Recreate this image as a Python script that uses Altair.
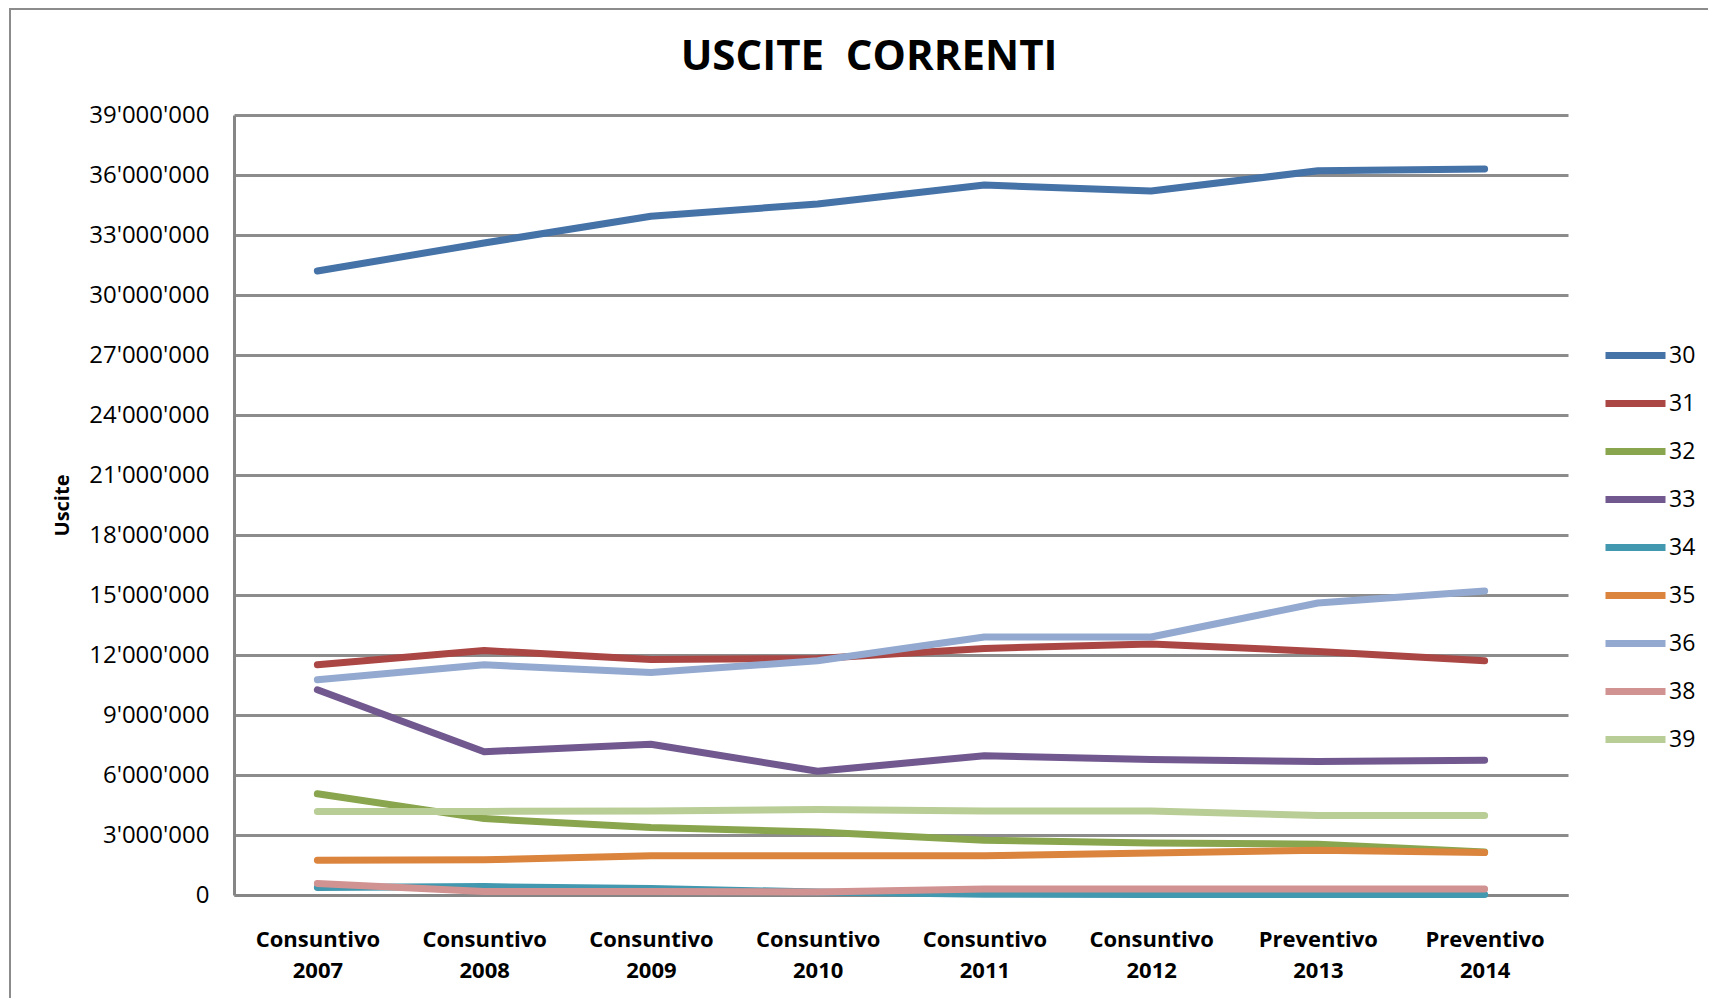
import altair as alt
import pandas as pd

categories = ["Consuntivo 2007", "Consuntivo 2008", "Consuntivo 2009", "Consuntivo 2010",
              "Consuntivo 2011", "Consuntivo 2012", "Preventivo 2013", "Preventivo 2014"]

s30 = [31200000, 32600000, 33940000, 34550000, 35500000, 35200000, 36210000, 36300000]
s31 = [11510000, 12220000, 11780000, 11830000, 12330000, 12550000, 12180000, 11710000]
s32 = [5060000, 3820000, 3370000, 3150000, 2740000, 2600000, 2540000, 2150000]
s33 = [10260000, 7160000, 7540000, 6190000, 6960000, 6770000, 6670000, 6740000]
s34 = [380000, 420000, 320000, 150000, 40000, 30000, 20000, 20000]
s35 = [1740000, 1760000, 1960000, 1960000, 1960000, 2100000, 2240000, 2120000]
s36 = [10760000, 11510000, 11130000, 11710000, 12900000, 12900000, 14600000, 15200000]
s38 = [580000, 170000, 170000, 150000, 300000, 300000, 300000, 300000]
s39 = [4180000, 4180000, 4200000, 4280000, 4200000, 4200000, 3980000, 3980000]

series_names = ["30", "31", "32", "33", "34", "35", "36", "38", "39"]
series_values = [s30, s31, s32, s33, s34, s35, s36, s38, s39]
colors = ["#4572A7", "#AA4643", "#89A54E", "#71588F", "#4198AF",
          "#DB843D", "#93A9CF", "#D19392", "#B9CD96"]
y_ticks = list(range(0, 39000001, 3000000))

rows = []
for name, vals in zip(series_names, series_values):
    for i, (c, v) in enumerate(zip(categories, vals)):
        rows.append({"serie": name, "periodo": c, "valore": v, "ord": i})
df = pd.DataFrame(rows)

FONT = "Open Sans"

lines = alt.Chart(df).mark_line(strokeWidth=7, strokeCap="round", strokeJoin="round").encode(
    x=alt.X("periodo:N", sort=categories, scale=alt.Scale(paddingInner=0, paddingOuter=0.5),
            axis=alt.Axis(title=None, labelAngle=0, labelFont=FONT, labelFontSize=22,
                          labelFontWeight="bold", labelColor="black",
                          labelExpr="split(datum.label, ' ')", labelLineHeight=31,
                          labelPadding=34, ticks=False, domain=True, domainColor="#868686",
                          domainWidth=3, grid=False, labelBaseline="top")),
    y=alt.Y("valore:Q", scale=alt.Scale(domain=[0, 39000000], nice=False),
            axis=alt.Axis(title="Uscite", values=y_ticks,
                          labelExpr="replace(format(datum.value, ',d'), /,/g, \"'\")",
                          labelFont=FONT, labelFontSize=24, labelColor="black",
                          labelPadding=25, ticks=False, domainColor="#868686", domainWidth=3,
                          gridColor="#8C8C8C", gridWidth=3, gridOpacity=1,
                          titleFont=FONT, titleFontSize=20, titleFontWeight="bold",
                          titleColor="black", titlePadding=16)),
    color=alt.Color("serie:N", sort=series_names,
                    scale=alt.Scale(domain=series_names, range=colors),
                    legend=alt.Legend(title=None, orient="none", legendX=1368, legendY=207,
                                      symbolType="stroke", symbolStrokeWidth=7,
                                      symbolSize=3600, rowPadding=-13,
                                      labelFont=FONT, labelFontSize=23, labelColor="black",
                                      labelOffset=0)),
    order="ord:O",
)

frame_df = pd.DataFrame({"k": [0]})
frame = alt.Chart(frame_df).mark_rect(fill=None, stroke="#8C8C8C", strokeWidth=2).encode(
    x=alt.value(-224), x2=alt.value(1600), y=alt.value(-106), y2=alt.value(1000)
)

chart = alt.layer(frame, lines).properties(
    width=1334, height=780,
    title=alt.TitleParams("USCITE\u00a0\u00a0CORRENTI", font=FONT, fontSize=42, fontWeight="bold",
                          color="black", anchor="middle", dx=-32, dy=95, offset=24),
    autosize=alt.AutoSizeParams(type="none"),
    padding={"left": 226, "top": 107, "right": 140, "bottom": 110},
).configure(background="white").configure_view(stroke=None, strokeWidth=0)

chart.save("out.html", embed_options={"renderer": "svg", "actions": False})
